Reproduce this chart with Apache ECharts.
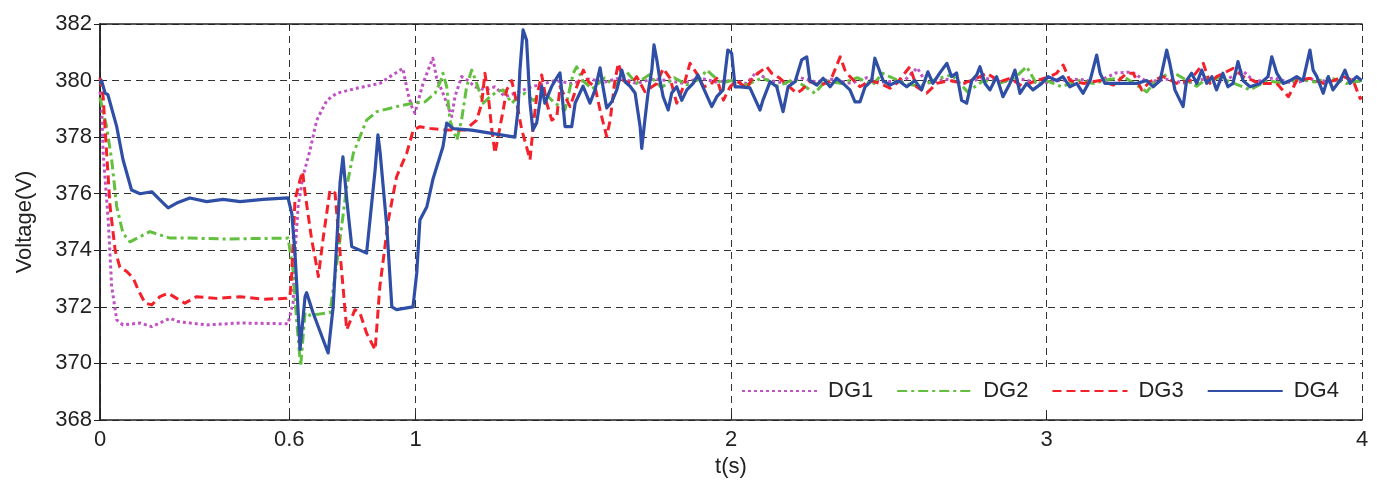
<!DOCTYPE html>
<html>
<head>
<meta charset="utf-8">
<script src="https://cdn.jsdelivr.net/npm/echarts@6/dist/echarts.min.js"></script>
<style>
  html, body { margin: 0; padding: 0; background: #fff; }
  #chart { width: 1384px; height: 493px; }
</style>
</head>
<body>
<div id="chart"></div>
<script>
// tick labels
var xTicks = [0, 0.6, 1, 2, 3, 4];
var seriesNames = ['DG1', 'DG2', 'DG3', 'DG4'];

// [t(s), voltage(V)]
var dg1 = [
  [0, 379.6], [0.005, 379.2], [0.010, 377.44], [0.026, 375.07], [0.037, 372.72], [0.053, 371.54],
  [0.073, 371.36], [0.127, 371.43], [0.164, 371.3], [0.19, 371.43], [0.222, 371.6], [0.247, 371.48],
  [0.285, 371.43], [0.338, 371.36], [0.444, 371.43], [0.596, 371.4], [0.612, 372.14], [0.618, 373.9],
  [0.628, 375.54], [0.643, 376.6], [0.666, 377.55], [0.687, 378.6], [0.719, 379.3], [0.75, 379.55],
  [0.814, 379.73], [0.887, 379.9], [0.919, 380.14], [0.96, 380.43], [0.976, 379.55], [0.988, 379.08],
  [0.998, 378.85], [1.024, 379.9], [1.04, 380.37], [1.055, 380.79], [1.067, 380.08], [1.083, 379.67],
  [1.115, 378.73], [1.125, 379.43], [1.146, 380.14], [1.166, 380.0], [1.189, 379.78], [1.22, 379.67],
  [1.252, 379.78], [1.284, 379.43], [1.315, 379.55], [1.368, 379.78], [1.41, 379.9], [1.442, 380.0],
  [1.495, 379.9], [1.55, 380.05], [1.6, 379.95], [1.65, 380.1], [1.7, 379.9], [1.75, 380.05],
  [1.8, 380.0], [1.85, 379.9], [1.9, 380.1], [1.95, 379.95], [2.0, 380.0], [2.05, 379.9],
  [2.08, 380.3], [2.12, 380.0], [2.18, 379.9], [2.22, 380.1], [2.27, 379.95], [2.32, 380.05],
  [2.38, 379.9], [2.43, 380.1], [2.48, 379.95], [2.55, 380.0], [2.59, 380.45], [2.62, 379.9],
  [2.68, 380.05], [2.74, 379.9], [2.8, 380.1], [2.86, 379.95], [2.92, 380.05], [2.98, 379.9],
  [3.04, 380.0], [3.1, 380.05], [3.16, 379.95], [3.22, 380.27], [3.27, 380.3], [3.32, 379.95],
  [3.38, 380.05], [3.44, 379.9], [3.5, 380.05], [3.56, 379.95], [3.62, 380.37], [3.66, 379.95],
  [3.72, 380.1], [3.78, 379.9], [3.84, 380.05], [3.9, 379.95], [3.95, 380.1], [4.0, 379.95]
];

var dg2 = [
  [0, 379.4], [0.021, 378.37], [0.037, 377.2], [0.053, 375.54], [0.073, 374.6], [0.095, 374.3],
  [0.127, 374.48], [0.158, 374.66], [0.19, 374.54], [0.222, 374.43], [0.285, 374.43], [0.39, 374.4],
  [0.596, 374.43], [0.612, 373.3], [0.623, 371.54], [0.636, 369.9], [0.65, 371.8], [0.666, 371.7],
  [0.729, 371.8], [0.755, 373.9], [0.782, 376.25], [0.803, 377.43], [0.845, 378.6], [0.877, 378.9],
  [0.94, 379.08], [0.992, 379.2], [1.03, 379.25], [1.062, 379.55], [1.083, 380.08], [1.087, 380.26],
  [1.099, 379.78], [1.109, 378.6], [1.131, 377.9], [1.146, 378.6], [1.162, 379.78], [1.178, 380.37],
  [1.194, 379.9], [1.215, 379.2], [1.236, 379.43], [1.257, 379.6], [1.278, 379.67], [1.305, 379.2],
  [1.326, 379.43], [1.347, 379.55], [1.373, 379.3], [1.41, 379.55], [1.442, 379.2], [1.474, 378.96],
  [1.5, 380.26], [1.511, 380.49], [1.53, 380.0], [1.56, 379.7], [1.6, 380.1], [1.63, 379.8],
  [1.67, 380.3], [1.7, 379.9], [1.74, 380.2], [1.78, 379.75], [1.82, 380.1], [1.86, 379.85],
  [1.9, 380.05], [1.923, 380.37], [1.97, 379.9], [2.0, 380.0], [2.05, 379.85], [2.1, 380.1],
  [2.15, 379.8], [2.2, 380.05], [2.266, 379.55], [2.3, 380.0], [2.35, 379.9], [2.4, 380.1],
  [2.45, 379.85], [2.48, 380.26], [2.55, 379.9], [2.6, 379.8], [2.65, 380.05], [2.7, 380.2],
  [2.75, 379.6], [2.8, 380.0], [2.85, 379.9], [2.9, 380.1], [2.937, 380.49], [2.97, 379.85],
  [3.0, 380.0], [3.048, 379.78], [3.1, 380.0], [3.15, 379.9], [3.2, 380.05], [3.25, 380.1],
  [3.318, 379.6], [3.35, 380.05], [3.4, 380.3], [3.476, 379.8], [3.5, 380.0], [3.55, 380.1],
  [3.645, 379.67], [3.7, 380.0], [3.75, 379.9], [3.8, 380.05], [3.85, 379.95], [3.9, 380.1],
  [3.95, 379.9], [4.0, 380.0]
];

var dg3 = [
  [0, 380.1], [0.005, 380.14], [0.01, 379.43], [0.021, 377.44], [0.032, 375.54], [0.048, 374.0],
  [0.063, 373.4], [0.085, 373.25], [0.106, 373.0], [0.121, 372.6], [0.143, 372.13], [0.164, 372.07],
  [0.19, 372.36], [0.216, 372.48], [0.243, 372.3], [0.269, 372.13], [0.306, 372.36], [0.37, 372.3],
  [0.444, 372.36], [0.518, 372.27], [0.592, 372.3], [0.602, 372.36], [0.608, 373.2], [0.618, 375.78],
  [0.634, 376.49], [0.642, 376.78], [0.65, 376.02], [0.671, 374.37], [0.687, 373.42], [0.692, 373.07],
  [0.708, 374.48], [0.729, 376.13], [0.745, 376.02], [0.761, 373.9], [0.782, 371.19], [0.808, 371.9],
  [0.824, 371.78], [0.845, 371.07], [0.872, 370.48], [0.887, 372.72], [0.914, 375.07], [0.94, 376.6],
  [0.972, 377.43], [0.993, 378.25], [1.014, 378.37], [1.046, 378.31], [1.099, 378.25], [1.157, 378.25],
  [1.194, 378.6], [1.21, 379.2], [1.22, 380.26], [1.231, 379.43], [1.242, 378.25], [1.252, 377.43],
  [1.262, 378.02], [1.278, 378.96], [1.289, 379.67], [1.305, 380.0], [1.321, 379.2], [1.337, 378.25],
  [1.352, 377.66], [1.363, 377.2], [1.373, 378.37], [1.384, 379.43], [1.4, 380.2], [1.416, 379.2],
  [1.432, 378.6], [1.448, 378.72], [1.458, 379.78], [1.474, 379.43], [1.49, 379.08], [1.511, 379.78],
  [1.532, 380.37], [1.548, 379.96], [1.569, 379.78], [1.585, 378.96], [1.595, 378.5], [1.606, 378.02],
  [1.617, 378.6], [1.632, 380.0], [1.643, 380.61], [1.659, 380.0], [1.685, 379.9], [1.701, 380.14],
  [1.727, 379.61], [1.765, 379.9], [1.785, 380.43], [1.807, 380.08], [1.828, 379.2], [1.849, 379.78],
  [1.87, 380.61], [1.891, 380.26], [1.913, 379.78], [1.933, 379.84], [1.955, 380.08], [1.976, 379.31],
  [1.997, 379.78], [2.018, 380.0], [2.05, 379.73], [2.071, 380.14], [2.113, 380.49], [2.129, 380.26],
  [2.155, 380.08], [2.208, 379.55], [2.224, 379.67], [2.25, 379.96], [2.282, 379.84], [2.314, 379.96],
  [2.346, 380.84], [2.361, 380.37], [2.377, 380.14], [2.409, 379.78], [2.441, 380.0], [2.472, 379.9],
  [2.504, 379.73], [2.525, 379.9], [2.567, 380.49], [2.588, 379.78], [2.62, 379.55], [2.652, 379.9],
  [2.694, 380.0], [2.736, 379.9], [2.779, 380.08], [2.81, 380.26], [2.853, 379.96], [2.884, 380.08],
  [2.926, 379.78], [2.958, 379.96], [3.011, 380.14], [3.032, 380.26], [3.053, 380.55], [3.074, 380.0],
  [3.117, 379.9], [3.17, 380.0], [3.212, 379.84], [3.254, 380.26], [3.275, 380.26], [3.302, 379.67],
  [3.328, 379.96], [3.37, 380.14], [3.413, 379.9], [3.455, 380.0], [3.497, 380.61], [3.518, 379.9],
  [3.539, 380.14], [3.592, 380.43], [3.624, 380.14], [3.677, 379.9], [3.73, 379.9], [3.767, 379.43],
  [3.793, 380.0], [3.835, 380.08], [3.877, 379.9], [3.909, 380.0], [3.941, 380.14], [3.972, 380.0],
  [3.994, 379.37], [4.0, 379.4]
];

var dg4 = [
  [0, 379.9], [0.005, 380.0], [0.016, 379.56], [0.025, 379.5], [0.053, 378.37], [0.073, 377.2],
  [0.1, 376.13], [0.127, 376.0], [0.164, 376.07], [0.19, 375.78], [0.216, 375.5], [0.243, 375.67],
  [0.285, 375.85], [0.338, 375.72], [0.39, 375.8], [0.444, 375.72], [0.517, 375.8], [0.596, 375.85],
  [0.608, 375.3], [0.618, 373.9], [0.624, 372.7], [0.634, 370.5], [0.65, 372.36], [0.655, 372.5],
  [0.675, 371.8], [0.723, 370.37], [0.739, 372.0], [0.761, 376.4], [0.77, 377.3], [0.782, 375.8],
  [0.798, 374.13], [0.845, 373.9], [0.872, 376.84], [0.881, 378.08], [0.888, 377.44], [0.909, 374.84],
  [0.925, 372.0], [0.94, 371.9], [0.992, 372.0], [1.004, 373.2], [1.014, 375.07], [1.036, 375.54],
  [1.055, 376.5], [1.087, 377.66], [1.099, 378.5], [1.119, 378.3], [1.178, 378.25], [1.315, 378.0],
  [1.325, 378.96], [1.331, 380.37], [1.341, 381.79], [1.352, 381.43], [1.363, 379.2], [1.372, 378.25],
  [1.384, 378.5], [1.395, 379.3], [1.4, 379.8], [1.41, 379.2], [1.432, 379.8], [1.448, 380.1],
  [1.458, 380.27], [1.464, 379.56], [1.474, 378.37], [1.495, 378.37], [1.506, 379.2], [1.531, 379.8],
  [1.553, 379.2], [1.569, 379.67], [1.585, 380.45], [1.594, 379.8], [1.606, 379.03], [1.622, 379.25],
  [1.638, 379.67], [1.654, 380.37], [1.664, 379.96], [1.68, 379.8], [1.696, 379.56], [1.712, 378.37],
  [1.717, 377.6], [1.727, 378.6], [1.737, 379.56], [1.749, 380.37], [1.756, 381.26], [1.765, 380.73],
  [1.775, 380.0], [1.785, 379.43], [1.801, 378.96], [1.812, 379.56], [1.828, 379.78], [1.844, 379.3],
  [1.86, 379.67], [1.88, 379.9], [1.895, 380.2], [1.911, 379.78], [1.939, 379.08], [1.955, 379.43],
  [1.975, 379.67], [1.99, 381.08], [2.002, 380.97], [2.013, 379.78], [2.029, 379.78], [2.06, 379.74],
  [2.092, 378.96], [2.101, 379.3], [2.124, 379.96], [2.145, 379.78], [2.165, 378.9], [2.181, 379.78],
  [2.203, 379.96], [2.224, 380.73], [2.24, 380.84], [2.25, 380.0], [2.272, 379.84], [2.292, 380.08],
  [2.314, 379.78], [2.335, 380.08], [2.355, 379.9], [2.377, 379.67], [2.393, 379.25], [2.409, 379.25],
  [2.425, 379.78], [2.446, 380.0], [2.456, 380.79], [2.466, 380.49], [2.482, 380.0], [2.504, 379.84],
  [2.525, 379.96], [2.536, 379.96], [2.557, 379.78], [2.583, 380.0], [2.604, 379.67], [2.624, 380.31],
  [2.64, 379.9], [2.662, 380.27], [2.684, 380.61], [2.699, 380.14], [2.715, 380.27], [2.731, 379.3],
  [2.747, 379.2], [2.763, 380.0], [2.779, 380.2], [2.789, 380.49], [2.805, 379.9], [2.821, 379.67],
  [2.842, 380.14], [2.862, 379.43], [2.884, 379.9], [2.9, 380.37], [2.916, 379.55], [2.937, 379.9],
  [2.957, 379.67], [2.985, 379.9], [3.005, 380.14], [3.032, 380.0], [3.052, 380.14], [3.074, 379.78],
  [3.096, 379.9], [3.116, 379.55], [3.138, 380.0], [3.159, 380.9], [3.17, 380.26], [3.185, 379.9],
  [3.222, 379.9], [3.286, 379.9], [3.318, 380.0], [3.338, 379.78], [3.36, 380.0], [3.381, 381.08],
  [3.391, 380.6], [3.407, 379.67], [3.423, 379.3], [3.433, 379.08], [3.444, 380.0], [3.46, 380.26],
  [3.476, 379.9], [3.492, 380.37], [3.508, 379.9], [3.524, 380.14], [3.539, 379.67], [3.559, 380.26],
  [3.575, 379.78], [3.591, 379.9], [3.607, 380.67], [3.623, 380.0], [3.645, 379.78], [3.677, 379.9],
  [3.702, 380.14], [3.714, 380.84], [3.73, 380.26], [3.75, 379.9], [3.772, 380.0], [3.793, 380.14],
  [3.813, 380.0], [3.835, 381.08], [3.845, 380.37], [3.857, 380.14], [3.877, 379.55], [3.893, 380.14],
  [3.908, 379.67], [3.93, 380.0], [3.946, 380.37], [3.962, 379.9], [3.983, 380.14], [3.999, 380.0]
];

var chart = echarts.init(document.getElementById('chart'), null, { renderer: 'canvas' });

var font = 'Liberation Sans, Arial, sans-serif';
var gridLine = { show: true, lineStyle: { color: '#333', width: 1, type: [7, 5] } };
var boxLine = { show: true, lineStyle: { color: '#222', width: 1.5 } };

function makeSeries(name, data, color, dash, width, z) {
  return {
    name: name,
    type: 'line',
    data: data,
    showSymbol: false,
    symbol: 'none',
    z: z,
    lineStyle: { color: color, width: width, type: dash, cap: 'butt', join: 'round' },
    itemStyle: { color: color },
    animation: false
  };
}

var option = {
  animation: false,
  backgroundColor: '#fff',
  grid: { left: 100, right: 22, top: 24, bottom: 73, containLabel: false },
  legend: {
    data: seriesNames,
    left: 735,
    top: 372,
    padding: [8, 14, 8, 6],
    backgroundColor: '#fff',
    itemWidth: 75,
    itemHeight: 12,
    itemGap: 23,
    itemStyle: { opacity: 0 },
    textStyle: { fontFamily: font, fontSize: 22, color: '#222', padding: [0, 0, 0, 6] }
  },
  xAxis: [{
    type: 'value',
    min: 0,
    max: 4,
    position: 'bottom',
    name: 't(s)',
    nameLocation: 'middle',
    nameGap: 35,
    nameTextStyle: { fontFamily: font, fontSize: 22, color: '#222' },
    axisLine: boxLine,
    axisTick: { show: true, inside: true, length: 6, customValues: xTicks, lineStyle: { color: '#222' } },
    axisLabel: {
      customValues: xTicks, fontFamily: font, fontSize: 22, color: '#222', margin: 9,
      formatter: function (v) { return String(v); }
    },
    splitLine: gridLine
  }, {
    type: 'value',
    min: 0,
    max: 4,
    position: 'top',
    axisLine: boxLine,
    axisTick: { show: true, inside: true, length: 6, customValues: xTicks, lineStyle: { color: '#222' } },
    axisLabel: { show: false },
    splitLine: { show: false }
  }],
  yAxis: [{
    type: 'value',
    min: 368,
    max: 382,
    interval: 2,
    position: 'left',
    name: 'Voltage(V)',
    nameLocation: 'middle',
    nameGap: 64,
    nameTextStyle: { fontFamily: font, fontSize: 22, color: '#222' },
    axisLine: boxLine,
    axisTick: { show: true, inside: true, length: 6, lineStyle: { color: '#222' } },
    axisLabel: { fontFamily: font, fontSize: 22, color: '#222', margin: 8 },
    splitLine: gridLine
  }, {
    type: 'value',
    min: 368,
    max: 382,
    interval: 2,
    position: 'right',
    axisLine: boxLine,
    axisTick: { show: true, inside: true, length: 6, lineStyle: { color: '#222' } },
    axisLabel: { show: false },
    splitLine: { show: false }
  }],
  series: [
    makeSeries('DG1', dg1, '#c052c4', [3, 3], 3, 2),
    makeSeries('DG2', dg2, '#62c03e', [10, 4, 3, 4], 3, 3),
    makeSeries('DG3', dg3, '#f4212a', [9, 5], 3, 4),
    makeSeries('DG4', dg4, '#2f4fa6', 'solid', 3.2, 5)
  ]
};

chart.setOption(option);
</script>
</body>
</html>
